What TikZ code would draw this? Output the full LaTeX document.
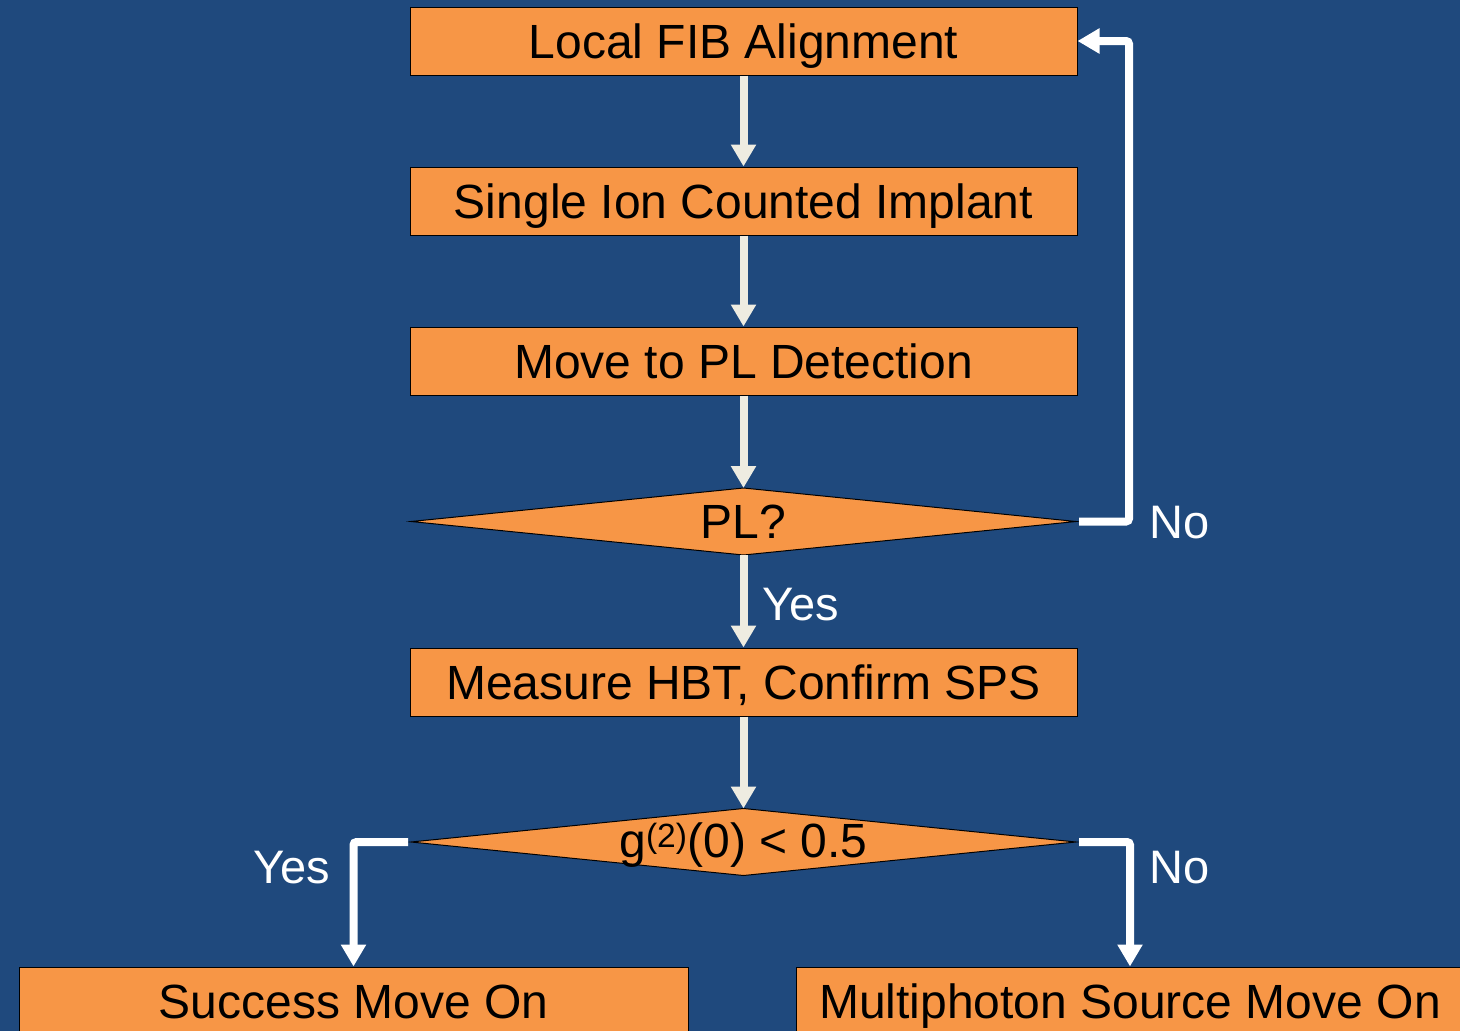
\documentclass[tikz,border=0pt]{standalone}
\usepackage{fontspec}
\setmainfont{Liberation Sans}
\usetikzlibrary{shapes.geometric,arrows.meta}
\definecolor{bgblue}{HTML}{1F497D}
\definecolor{boxorange}{HTML}{F79646}
\definecolor{arrowlight}{HTML}{EEECE1}
\tikzset{
  stepbox/.style={draw=black, line width=1pt, fill=boxorange, minimum width=667pt, minimum height=68pt,
    inner sep=0pt, text height=34.4pt, text depth=0pt, font=\fontsize{48}{56}\selectfont},
  decisionbox/.style={diamond, draw=black, line width=1pt, fill=boxorange, minimum width=665pt, minimum height=67pt,
    inner sep=0pt, outer sep=0pt},
  decisiontext/.style={inner sep=0pt, text height=34.4pt, text depth=0pt, font=\fontsize{48}{56}\selectfont},
  flowarrow/.style={draw=arrowlight, line width=8pt, -{Triangle[width=24pt,length=22pt]}},
  elbowarrow/.style={draw=white, line width=8pt, rounded corners=3pt, -{Triangle[width=24pt,length=22pt]}},
  lbl/.style={text=white, inner sep=0pt, text height=34.4pt, text depth=0pt, font=\fontsize{47}{56}\selectfont}
}
\begin{document}
\begin{tikzpicture}[x=1pt,y=-1pt]
\useasboundingbox (0,0) rectangle (1460,1031);
\fill[bgblue] (0,0) rectangle (1460,1031);
\clip (0,0) rectangle (1460,1031);
\node[stepbox] (fib) at (743.5,41) {Local FIB Alignment};
\node[stepbox] (sici) at (743.5,201) {Single Ion Counted Implant};
\node[stepbox] (move) at (743.5,361) {Move to PL Detection};
\node[decisionbox] (pl) at (743.5,521.5) {};
\node[decisiontext] (plt) at (pl.center) {PL?};
\node[stepbox] (hbt) at (743.5,682) {Measure HBT, Confirm SPS};
\node[decisionbox] (g2) at (743.5,842) {};
\node[decisiontext] (g2t) at ([yshift=2pt]g2.center) {g\textsuperscript{(2)}(0) < 0.5};
\node[stepbox, minimum width=669pt] (succ) at (353.5,1001) {Success Move On};
\node[stepbox, minimum width=668pt] (multi) at (1130,1001) {Multiphoton Source Move On};

\draw[flowarrow] (fib.south) -- (sici.north);
\draw[flowarrow] (sici.south) -- (move.north);
\draw[flowarrow] (move.south) -- (pl.north);
\draw[flowarrow] (pl.south) -- (hbt.north);
\draw[flowarrow] (hbt.south) -- (g2.north);

\draw[elbowarrow] ([xshift=3pt]pl.east) -- ++(50,0) |- (fib.east);
\draw[elbowarrow] ([xshift=-3pt]g2.west) -| (succ.north);
\draw[elbowarrow] ([xshift=3pt]g2.east) -| (multi.north);

\node[lbl] (no1) at (1180,521) {No};
\node[lbl] (yes1) at (801,603) {Yes};
\node[lbl] (yes2) at (292,866) {Yes};
\node[lbl] (no2) at (1180,866) {No};
\end{tikzpicture}
\end{document}
